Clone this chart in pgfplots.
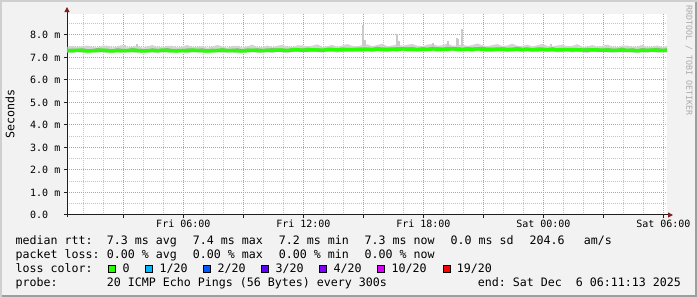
\documentclass[border=0pt]{standalone}
\usepackage{fontspec}
\setmainfont{DejaVu Sans}
\setmonofont{DejaVu Sans Mono}
\usepackage{pgfplots}
\usepackage{pgfplotstable}
\pgfplotsset{compat=1.18}
\usetikzlibrary{arrows.meta}

\definecolor{bg}{HTML}{F2F2F2}
\definecolor{shadea}{HTML}{CFCFCF}
\definecolor{shadeb}{HTML}{9E9E9E}
\definecolor{gridminor}{HTML}{C4C4C4}
\definecolor{gridmajor}{HTML}{E69090}
\definecolor{arrowred}{HTML}{801F1F}
\definecolor{axiscol}{HTML}{1F1F1F}
\definecolor{smokelight}{HTML}{D4D4D4}
\definecolor{smokedark}{HTML}{A8A8A8}
\definecolor{spike}{HTML}{CACACA}
\definecolor{wm}{HTML}{AAAAAA}
\definecolor{loss0}{HTML}{26FF00}
\definecolor{loss1}{HTML}{00B8FF}
\definecolor{loss2}{HTML}{0059FF}
\definecolor{loss3}{HTML}{5E00FF}
\definecolor{loss4}{HTML}{7E00FF}
\definecolor{loss10}{HTML}{DD00FF}
\definecolor{loss19}{HTML}{FF0000}

\newcommand{\lf}{\fontsize{11.63bp}{14bp}\selectfont\ttfamily}
\newcommand{\af}{\fontsize{10bp}{12bp}\selectfont\ttfamily}

\pgfplotstableread{
T M LO HI DLO DHI
0.20 7.31 7.22 7.47 7.27 7.38
0.45 7.30 7.19 7.51 7.25 7.39
0.70 7.32 7.24 7.46 7.29 7.38
0.95 7.31 7.21 7.50 7.26 7.41
1.20 7.29 7.17 7.53 7.25 7.37
1.45 7.30 7.21 7.47 7.24 7.37
1.70 7.31 7.21 7.44 7.27 7.42
1.95 7.32 7.24 7.52 7.29 7.39
2.20 7.30 7.19 7.52 7.25 7.39
2.45 7.29 7.19 7.44 7.25 7.35
2.70 7.31 7.22 7.49 7.26 7.41
2.95 7.30 7.19 7.55 7.27 7.38
3.20 7.30 7.22 7.44 7.25 7.37
3.45 7.32 7.22 7.48 7.28 7.43
3.70 7.31 7.19 7.52 7.25 7.38
3.95 7.29 7.20 7.43 7.25 7.38
4.20 7.30 7.20 7.49 7.27 7.36
4.45 7.31 7.23 7.55 7.26 7.41
4.70 7.30 7.19 7.47 7.26 7.38
4.95 7.32 7.22 7.45 7.27 7.39
5.20 7.31 7.22 7.51 7.28 7.42
5.45 7.30 7.19 7.52 7.25 7.37
5.70 7.29 7.21 7.44 7.25 7.38
5.95 7.31 7.21 7.49 7.25 7.37
6.20 7.30 7.18 7.55 7.26 7.40
6.45 7.32 7.23 7.46 7.29 7.40
6.70 7.31 7.21 7.47 7.26 7.38
6.95 7.30 7.22 7.51 7.26 7.41
7.20 7.29 7.18 7.43 7.24 7.36
7.45 7.30 7.20 7.49 7.27 7.39
7.70 7.31 7.22 7.55 7.26 7.37
7.95 7.32 7.21 7.49 7.28 7.42
8.20 7.30 7.22 7.43 7.24 7.38
8.45 7.31 7.21 7.51 7.27 7.38
8.70 7.30 7.18 7.52 7.27 7.41
8.95 7.29 7.20 7.44 7.24 7.36
9.20 7.31 7.21 7.49 7.27 7.40
9.45 7.32 7.24 7.57 7.27 7.38
9.70 7.31 7.20 7.45 7.28 7.41
9.95 7.30 7.20 7.46 7.25 7.38
10.20 7.32 7.23 7.53 7.28 7.39
10.45 7.31 7.20 7.45 7.25 7.42
10.70 7.33 7.25 7.52 7.29 7.40
10.95 7.32 7.22 7.56 7.29 7.41
11.20 7.31 7.19 7.48 7.26 7.37
11.45 7.33 7.24 7.46 7.29 7.43
11.70 7.34 7.24 7.54 7.29 7.42
11.95 7.32 7.24 7.54 7.29 7.39
12.20 7.33 7.22 7.48 7.28 7.44
12.45 7.34 7.24 7.52 7.30 7.41
12.70 7.33 7.24 7.58 7.27 7.42
12.95 7.32 7.21 7.46 7.28 7.38
13.20 7.34 7.26 7.50 7.31 7.44
13.45 7.35 7.25 7.56 7.30 7.43
13.70 7.33 7.21 7.47 7.29 7.40
13.95 7.34 7.25 7.53 7.29 7.45
14.20 7.35 7.25 7.59 7.32 7.42
14.45 7.34 7.26 7.51 7.29 7.43
14.70 7.36 7.25 7.49 7.32 7.42
14.95 7.35 7.25 7.55 7.29 7.45
15.20 7.36 7.27 7.58 7.32 7.44
15.45 7.35 7.24 7.50 7.32 7.42
15.70 7.37 7.29 7.55 7.32 7.48
15.95 7.36 7.26 7.61 7.32 7.43
16.20 7.35 7.23 7.49 7.30 7.44
16.45 7.37 7.28 7.53 7.34 7.43
16.70 7.36 7.26 7.57 7.31 7.46
16.95 7.38 7.30 7.52 7.34 7.46
17.20 7.37 7.26 7.56 7.31 7.44
17.45 7.36 7.26 7.60 7.32 7.47
17.70 7.35 7.26 7.52 7.32 7.42
17.95 7.37 7.26 7.50 7.32 7.46
18.20 7.36 7.28 7.56 7.32 7.42
18.45 7.38 7.28 7.60 7.33 7.48
18.70 7.37 7.25 7.52 7.34 7.45
18.95 7.36 7.27 7.54 7.31 7.43
19.20 7.37 7.27 7.62 7.33 7.48
19.45 7.38 7.30 7.52 7.32 7.45
19.70 7.37 7.26 7.53 7.33 7.46
19.95 7.36 7.26 7.57 7.33 7.42
20.20 7.37 7.28 7.51 7.32 7.47
20.45 7.36 7.25 7.55 7.32 7.44
20.70 7.38 7.30 7.62 7.33 7.45
20.95 7.37 7.27 7.54 7.34 7.48
21.20 7.36 7.24 7.49 7.31 7.43
21.45 7.35 7.26 7.55 7.31 7.44
21.70 7.37 7.27 7.59 7.31 7.43
21.95 7.36 7.28 7.51 7.32 7.46
22.20 7.35 7.24 7.53 7.32 7.43
22.45 7.36 7.26 7.61 7.31 7.43
22.70 7.37 7.28 7.51 7.33 7.48
22.95 7.35 7.24 7.51 7.30 7.42
23.20 7.36 7.28 7.57 7.33 7.45
23.45 7.34 7.24 7.48 7.29 7.40
23.70 7.35 7.23 7.54 7.31 7.45
23.95 7.36 7.27 7.60 7.30 7.44
24.20 7.34 7.24 7.51 7.30 7.41
24.45 7.35 7.27 7.48 7.32 7.46
24.70 7.33 7.22 7.53 7.28 7.40
24.95 7.34 7.24 7.56 7.30 7.43
25.20 7.35 7.26 7.50 7.30 7.41
25.45 7.33 7.22 7.51 7.30 7.43
25.70 7.34 7.26 7.59 7.29 7.42
25.95 7.33 7.23 7.47 7.29 7.40
26.20 7.32 7.20 7.48 7.26 7.43
26.45 7.34 7.25 7.55 7.30 7.41
26.70 7.33 7.23 7.47 7.30 7.42
26.95 7.32 7.24 7.51 7.27 7.38
27.20 7.33 7.22 7.57 7.29 7.43
27.45 7.31 7.21 7.48 7.26 7.39
27.70 7.32 7.23 7.45 7.29 7.39
27.95 7.33 7.22 7.53 7.28 7.44
28.20 7.31 7.23 7.53 7.27 7.38
28.45 7.32 7.22 7.47 7.26 7.41
28.70 7.30 7.18 7.48 7.26 7.36
28.95 7.32 7.23 7.57 7.29 7.42
29.20 7.31 7.21 7.45 7.26 7.39
29.45 7.33 7.25 7.49 7.29 7.40
29.70 7.32 7.21 7.53 7.27 7.43
29.95 7.31 7.21 7.45 7.28 7.38
30.18 7.32 7.23 7.51 7.27 7.41
}\smoke

\pagecolor{bg}

\begin{document}
\begin{tikzpicture}
\fill[shadea] (0bp,0bp) rectangle (2bp,297bp);
\fill[shadea] (0bp,295bp) rectangle (697bp,297bp);
\fill[shadeb] (695bp,0bp) rectangle (697bp,295bp);
\fill[shadeb] (2bp,0bp) rectangle (697bp,2bp);

\begin{axis}[
  at={(67bp,82bp)}, anchor=south west,
  scale only axis, width=600bp, height=201bp,
  xmin=0.183, xmax=30.183, ymin=0, ymax=8.93,
  axis background/.style={fill=white},
  axis lines=left,
  axis line style={axiscol, line width=1bp},
  x axis line style={-{Triangle[length=5bp,width=5bp,color=arrowred]}, shorten >=-6bp, shorten <=-3bp},
  y axis line style={-{Triangle[length=5bp,width=5bp,color=arrowred]}, shorten >=-7bp, shorten <=-2bp},
  xtick={3,6,...,30},
  xticklabels={{},Fri 06:00,{},Fri 12:00,{},Fri 18:00,{},Sat 00:00,{},Sat 06:00},
  minor xtick={1,2,4,5,7,8,10,11,13,14,16,17,19,20,22,23,25,26,28,29},
  ytick={0,1,...,8},
  yticklabels={0.0,1.0 m,2.0 m,3.0 m,4.0 m,5.0 m,6.0 m,7.0 m,8.0 m},
  minor ytick={0.5,1.5,...,8.5},
  grid=both,
  minor grid style={gridminor, line width=1bp, dash pattern=on 1bp off 1bp},
  major grid style={gridmajor, line width=1bp, dash pattern=on 1bp off 1bp},
  tick align=outside,
  major tick length=3bp, minor tick length=0bp,
  tick style={axiscol, line width=1bp},
  every tick label/.append style={font=\af, inner sep=0pt},
  xticklabel style={anchor=base, yshift=-9.3bp},
  yticklabel style={anchor=west, xshift=-34bp},
]
% light smoke band: base LO, then HI-LO stacked on it
\addplot[draw=none, stack plots=y, forget plot] table[x=T, y=LO]{\smoke};
\addplot[draw=none, fill=smokelight, stack plots=y, forget plot] table[x=T, y expr=\thisrow{HI}-\thisrow{LO}]{\smoke} \closedcycle;
% step the stack down to DLO, then the dark band DHI-DLO
\addplot[draw=none, stack plots=y, forget plot] table[x=T, y expr=\thisrow{DLO}-\thisrow{HI}]{\smoke};
\addplot[draw=none, fill=smokedark, stack plots=y, forget plot] table[x=T, y expr=\thisrow{DHI}-\thisrow{DLO}]{\smoke} \closedcycle;
% isolated spikes of the smoke
\addplot[spike, line width=2bp] coordinates {(3.10,7.48) (3.10,7.55)};
\addplot[spike, line width=2bp] coordinates {(3.70,7.48) (3.70,7.60)};
\addplot[spike, line width=2bp] coordinates {(14.98,7.50) (14.98,8.44)};
\addplot[spike, line width=2bp] coordinates {(15.08,7.50) (15.08,7.78)};
\addplot[spike, line width=2bp] coordinates {(16.68,7.50) (16.68,8.04)};
\addplot[spike, line width=2bp] coordinates {(16.76,7.50) (16.76,7.72)};
\addplot[spike, line width=2bp] coordinates {(18.48,7.50) (18.48,7.62)};
\addplot[spike, line width=2bp] coordinates {(19.23,7.50) (19.23,7.73)};
\addplot[spike, line width=2bp] coordinates {(19.66,7.50) (19.66,7.87)};
\addplot[spike, line width=2bp] coordinates {(19.75,7.50) (19.75,7.80)};
\addplot[spike, line width=2bp] coordinates {(19.93,7.50) (19.93,8.27)};
\addplot[spike, line width=2bp] coordinates {(24.40,7.50) (24.40,7.60)};
% median
\addplot[loss0, line width=3.5bp] table[x=T, y=M]{\smoke};
\end{axis}

\node[rotate=90, font=\lf, inner sep=0pt] at (10bp,183bp) {Seconds};
\node[rotate=-90, anchor=west, font=\fontsize{8.3bp}{10bp}\selectfont\ttfamily, color=wm, inner sep=0pt] at (689bp,292bp) {RRDTOOL / TOBI OETIKER};

\begin{scope}[every node/.style={anchor=base west, inner sep=0pt, font=\lf}]
\node at (15.5bp,52.5bp) {median rtt:};
\node at (106.7bp,52.5bp) {7.3 ms avg};
\node at (192.7bp,52.5bp) {7.4 ms max};
\node at (278.7bp,52.5bp) {7.2 ms min};
\node at (364.4bp,52.5bp) {7.3 ms now};
\node at (450.4bp,52.5bp) {0.0 ms sd};
\node at (529.4bp,52.5bp) {204.6};
\node at (583.7bp,52.5bp) {am/s};

\node at (15.5bp,38.5bp) {packet loss:};
\node at (106.7bp,38.5bp) {0.00 \% avg};
\node at (192.7bp,38.5bp) {0.00 \% max};
\node at (278.7bp,38.5bp) {0.00 \% min};
\node at (364.4bp,38.5bp) {0.00 \% now};

\node at (15.5bp,24.4bp) {loss color:};
\node at (122.5bp,24.4bp) {0};
\node at (159.3bp,24.4bp) {1/20};
\node at (217.3bp,24.4bp) {2/20};
\node at (275.3bp,24.4bp) {3/20};
\node at (333.3bp,24.4bp) {4/20};
\node at (391.3bp,24.4bp) {10/20};
\node at (456.6bp,24.4bp) {19/20};

\node at (15.5bp,11bp) {probe:};
\node at (106.7bp,11bp) {20 ICMP Echo Pings (56 Bytes) every 300s};
\node at (477.6bp,11bp) {end: Sat Dec\ \ 6 06:11:13 2025};
\end{scope}

\filldraw[fill=loss0, draw=black, line width=1bp] (108.5bp,24.2bp) rectangle (115.5bp,31.2bp);
\filldraw[fill=loss1, draw=black, line width=1bp] (145.8bp,24.2bp) rectangle (152.8bp,31.2bp);
\filldraw[fill=loss2, draw=black, line width=1bp] (203.8bp,24.2bp) rectangle (210.8bp,31.2bp);
\filldraw[fill=loss3, draw=black, line width=1bp] (261.8bp,24.2bp) rectangle (268.8bp,31.2bp);
\filldraw[fill=loss4, draw=black, line width=1bp] (319.8bp,24.2bp) rectangle (326.8bp,31.2bp);
\filldraw[fill=loss10, draw=black, line width=1bp] (377.8bp,24.2bp) rectangle (384.8bp,31.2bp);
\filldraw[fill=loss19, draw=black, line width=1bp] (443.2bp,24.2bp) rectangle (450.2bp,31.2bp);
\pgfresetboundingbox
\useasboundingbox (0bp,0bp) rectangle (697bp,297bp);
\end{tikzpicture}
\end{document}
